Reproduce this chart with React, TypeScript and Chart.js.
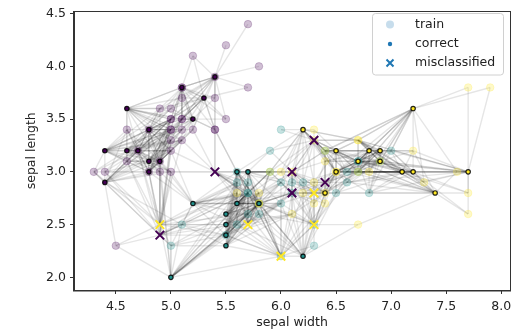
import { useEffect, useRef } from 'react';
import { Chart, registerables } from 'chart.js';
Chart.register(...registerables);

// Iris sepal measurements (x: sepal length shown as "sepal width" label, y: sepal width shown as "sepal length")
const setosaX = [5.1,4.9,4.7,4.6,5.0,5.4,4.6,5.0,4.4,4.9,5.4,4.8,4.8,4.3,5.8,5.7,5.4,5.1,5.7,5.1,5.4,5.1,4.6,5.1,4.8,5.0,5.0,5.2,5.2,4.7,4.8,5.4,5.2,5.5,4.9,5.0,5.5,4.9,4.4,5.1,5.0,4.5,4.4,5.0,5.1,4.8,5.1,4.6,5.3,5.0];
const setosaY = [3.5,3.0,3.2,3.1,3.6,3.9,3.4,3.4,2.9,3.1,3.7,3.4,3.0,3.0,4.0,4.4,3.9,3.5,3.8,3.8,3.4,3.7,3.6,3.3,3.4,3.0,3.4,3.5,3.4,3.2,3.1,3.4,4.1,4.2,3.1,3.2,3.5,3.6,3.0,3.4,3.5,2.3,3.2,3.5,3.8,3.0,3.8,3.2,3.7,3.3];
const setosaRole = ['T','T','C','T','T','C','T','T','C','C','T','C','C','T','T','T','T','T','T','C','T','T','C','T','T','T','T','C','T','T','C','T','T','T','T','T','T','T','T','T','T','T','C','T','T','T','T','C','C','T'];

const versicolorX = [7.0,6.4,6.9,5.5,6.5,5.7,6.3,4.9,6.6,5.2,5.0,5.9,6.0,6.1,5.6,6.7,5.6,5.8,6.2,5.6,5.9,6.1,6.3,6.1,6.4,6.6,6.8,6.7,6.0,5.7,5.5,5.5,5.8,6.0,5.4,6.0,6.7,6.3,5.6,5.5,5.5,6.1,5.8,5.0,5.6,5.7,5.7,6.2,5.1,5.7];
const versicolorY = [3.2,3.2,3.1,2.3,2.8,2.8,3.3,2.4,2.9,2.7,2.0,3.0,2.2,2.9,2.9,3.1,3.0,2.7,2.2,2.5,3.2,2.8,2.5,2.8,2.9,3.0,2.8,3.0,2.9,2.6,2.4,2.4,2.7,2.7,3.0,3.4,3.1,2.3,3.0,2.5,2.6,3.0,2.6,2.3,2.7,3.0,2.9,2.9,2.5,2.8];
const versicolorRole = ['T','T','T','C','T','T','M','M','T','C','C','T','T','T','T','T','C','C','C','T','T','M','T','T','M','T','T','T','T','T','C','T','T','T','M','T','T','T','T','C','C','M','T','T','C','C','T','T','T','T'];

const virginicaX = [6.3,5.8,7.1,6.3,6.5,7.6,4.9,7.3,6.7,7.2,6.5,6.4,6.8,5.7,5.8,6.4,6.5,7.7,7.7,6.0,6.9,5.6,7.7,6.3,6.7,7.2,6.2,6.1,6.4,7.2,7.4,7.9,6.4,6.3,6.1,7.7,6.3,6.4,6.0,6.9,6.7,6.9,5.8,6.8,6.7,6.7,6.3,6.5,6.2,5.9];
const virginicaY = [3.3,2.7,3.0,2.9,3.0,3.0,2.5,2.9,2.5,3.6,3.2,2.7,3.0,2.5,2.8,3.2,3.0,3.8,2.6,2.2,3.2,2.8,2.8,2.7,3.3,3.2,2.8,3.0,2.8,3.0,2.8,3.8,2.8,2.8,2.6,3.0,3.4,3.1,3.0,3.1,3.1,3.1,2.7,3.2,3.3,3.0,2.5,3.0,3.4,3.0];
const virginicaRole = ['T','T','C','T','C','T','M','T','T','C','C','T','T','M','T','T','T','T','T','M','C','T','T','T','T','T','T','T','C','C','C','T','T','M','T','C','T','T','T','C','C','T','T','C','T','T','M','T','C','T'];

const classColors = ['68,1,84', '33,145,140', '253,231,37'];
// misclassified marks are coloured on a scale spanning only versicolor..virginica
const missColors = ['68,1,84', '68,1,84', '253,231,37'];

const xTicks = [4.5, 5.0, 5.5, 6.0, 6.5, 7.0, 7.5, 8.0];
const yTicks = [2.0, 2.5, 3.0, 3.5, 4.0, 4.5];
const legendLabels = ['train', 'correct', 'misclassified'];
const K_NEIGHBORS = 20;

type P = { x: number; y: number; c: number; r: string };

const FONT = "'DejaVu Sans', sans-serif";

export default function App() {
  const ref = useRef<HTMLCanvasElement | null>(null);
  useEffect(() => {
    document.body.style.margin = '0';
    const pts: P[] = [];
    const groups = [
      [setosaX, setosaY, setosaRole],
      [versicolorX, versicolorY, versicolorRole],
      [virginicaX, virginicaY, virginicaRole],
    ] as [number[], number[], string[]][];
    groups.forEach(([xs, ys, rs], c) => {
      xs.forEach((x, i) => pts.push({ x, y: ys[i], c, r: rs[i] }));
    });
    const train = pts.filter((p) => p.r === 'T');
    const correct = pts.filter((p) => p.r === 'C');
    const miss = pts.filter((p) => p.r === 'M');
    const tests = pts.filter((p) => p.r !== 'T');

    const edges: { x: number; y: number }[] = [];
    tests.forEach((t) => {
      const near = train
        .map((p) => ({ p, d: (p.x - t.x) ** 2 + (p.y - t.y) ** 2 }))
        .sort((a, b) => a.d - b.d)
        .slice(0, K_NEIGHBORS);
      near.forEach(({ p }) => {
        edges.push({ x: t.x, y: t.y }, { x: p.x, y: p.y }, { x: NaN, y: NaN });
      });
    });

    const legendPlugin = {
      id: 'mplLegend',
      afterDraw(chart: any) {
        const ctx = chart.ctx as CanvasRenderingContext2D;
        ctx.save();
        const bx = 372.5, by = 13.5, bw = 131, bh = 61.5, rr = 3;
        ctx.beginPath();
        ctx.moveTo(bx + rr, by);
        ctx.arcTo(bx + bw, by, bx + bw, by + bh, rr);
        ctx.arcTo(bx + bw, by + bh, bx, by + bh, rr);
        ctx.arcTo(bx, by + bh, bx, by, rr);
        ctx.arcTo(bx, by, bx + bw, by, rr);
        ctx.closePath();
        ctx.fillStyle = 'rgba(255,255,255,0.8)';
        ctx.fill();
        ctx.strokeStyle = '#d0d0d0';
        ctx.lineWidth = 1;
        ctx.stroke();
        const mx = 390;
        const ys = [24.5, 44, 63];
        ctx.beginPath();
        ctx.arc(mx, ys[0], 4, 0, Math.PI * 2);
        ctx.fillStyle = 'rgba(31,119,180,0.25)';
        ctx.fill();
        ctx.beginPath();
        ctx.arc(mx, ys[1], 2.2, 0, Math.PI * 2);
        ctx.fillStyle = '#1f77b4';
        ctx.fill();
        ctx.beginPath();
        ctx.moveTo(mx - 3.5, ys[2] - 3.5);
        ctx.lineTo(mx + 3.5, ys[2] + 3.5);
        ctx.moveTo(mx + 3.5, ys[2] - 3.5);
        ctx.lineTo(mx - 3.5, ys[2] + 3.5);
        ctx.strokeStyle = '#1f77b4';
        ctx.lineWidth = 2;
        ctx.stroke();
        ctx.fillStyle = '#222';
        ctx.font = `12.5px ${FONT}`;
        ctx.textBaseline = 'middle';
        ctx.textAlign = 'left';
        legendLabels.forEach((t, i) => ctx.fillText(t, 415, ys[i]));
        ctx.restore();
      },
    };

    const framePlugin = {
      id: 'frame',
      afterDatasetsDraw(chart: any) {
        const { ctx, chartArea: a } = chart;
        ctx.save();
        ctx.strokeStyle = '#333';
        ctx.lineWidth = 1;
        ctx.strokeRect(Math.round(a.left) - 0.5, Math.round(a.top) - 0.5, a.right - a.left + 1, a.bottom - a.top + 1);
        ctx.restore();
      },
    };

    const chart = new Chart(ref.current!, {
      type: 'scatter',
      data: {
        datasets: [
          {
            label: 'misclassified',
            data: miss.map((p) => ({ x: p.x, y: p.y })),
            pointStyle: 'crossRot',
            pointRadius: 6,
            pointBorderWidth: 2,
            pointBorderColor: miss.map((p) => `rgb(${missColors[p.c]})`),
            pointBackgroundColor: 'transparent',
            order: 0,
          } as any,
          {
            label: 'correct',
            data: correct.map((p) => ({ x: p.x, y: p.y })),
            pointStyle: 'circle',
            pointRadius: 2.2,
            pointBorderWidth: 1.2,
            pointBackgroundColor: correct.map((p) => `rgb(${classColors[p.c]})`),
            pointBorderColor: 'rgba(0,0,0,0.85)',
            order: 1,
          },
          {
            label: 'train',
            data: train.map((p) => ({ x: p.x, y: p.y })),
            pointStyle: 'circle',
            pointRadius: 3.8,
            pointBorderWidth: 0.8,
            pointBackgroundColor: train.map((p) => `rgba(${classColors[p.c]},0.25)`),
            pointBorderColor: train.map((p) => `rgba(${classColors[p.c]},0.25)`),
            order: 2,
          },
          {
            label: 'edges',
            data: edges,
            showLine: true,
            spanGaps: false,
            pointRadius: 0,
            borderColor: 'rgba(0,0,0,0.1)',
            borderWidth: 1.4,
            segment: { borderColor: () => undefined },
            order: 3,
          } as any,
        ],
      },
      options: {
        animation: false,
        responsive: false,
        events: [],
        layout: { padding: { left: 0, right: 9, top: 6, bottom: 0 } },
        plugins: { legend: { display: false }, tooltip: { enabled: false } },
        scales: {
          x: {
            type: 'linear',
            min: 4.12,
            max: 8.08,
            afterBuildTicks: (s: any) => { s.ticks = xTicks.map((v) => ({ value: v })); },
            afterFit: (s: any) => { s.height = 40; },
            ticks: {
              callback: (v: any) => Number(v).toFixed(1),
              color: '#222',
              font: { family: FONT, size: 12.5 },
              padding: 5,
              maxRotation: 0,
              autoSkip: false,
            },
            grid: { drawOnChartArea: false, drawTicks: true, tickLength: 4, tickColor: '#333' },
            border: { display: true, color: '#333' },
            title: { display: true, text: 'sepal width', color: '#222', font: { family: FONT, size: 12.5 }, padding: { top: 0, bottom: 0 } },
          },
          y: {
            type: 'linear',
            min: 1.88,
            max: 4.52,
            afterBuildTicks: (s: any) => { s.ticks = yTicks.map((v) => ({ value: v })); },
            afterFit: (s: any) => { s.width = 74; },
            ticks: {
              callback: (v: any) => Number(v).toFixed(1),
              color: '#222',
              font: { family: FONT, size: 12.5 },
              padding: 4,
              autoSkip: false,
            },
            grid: { drawOnChartArea: false, drawTicks: true, tickLength: 4, tickColor: '#333' },
            border: { display: true, color: '#333' },
            title: { display: true, text: 'sepal length', color: '#222', font: { family: FONT, size: 12.5 }, padding: { top: 24, bottom: 0 } },
          },
        },
      },
      plugins: [framePlugin, legendPlugin],
    });
    return () => chart.destroy();
  }, []);
  return <canvas ref={ref} width={519} height={330} style={{ display: 'block', width: 519, height: 330 }} />;
}
